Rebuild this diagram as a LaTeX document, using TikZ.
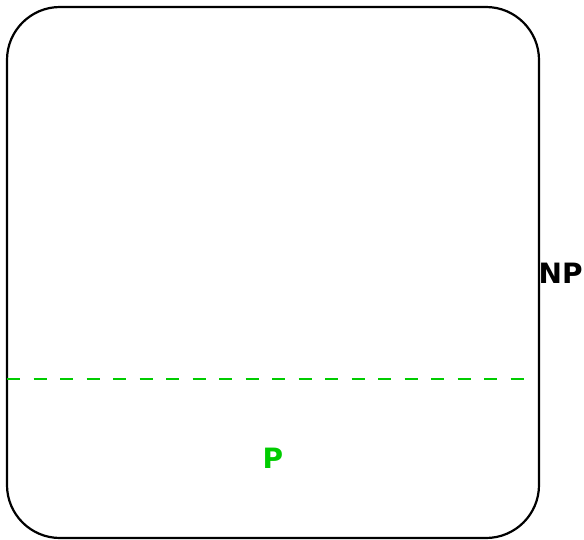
\documentclass[tikz,border=0pt]{standalone}
\usepackage{fontspec}
\setmainfont{DejaVu Sans}
\definecolor{pgreen}{RGB}{0,204,0}
\begin{document}
\begin{tikzpicture}[x=1pt,y=-1pt,
  lbl/.style={font=\fontsize{28}{32}\selectfont\bfseries, inner sep=0pt}]
\useasboundingbox (0,0) rectangle (584,539);
\draw[line width=2.2pt, rounded corners=53pt] (7,7) rectangle (539,538);
\coordinate (dl) at (7,379.3);
\coordinate (dr) at (527,379.3);
\draw[pgreen, line width=2.2pt, dash pattern=on 13pt off 13.5pt] (dl) -- (dr);
\node[lbl, anchor=base west] (np) at (538.5,283) {NP};
\node[lbl, text=pgreen, anchor=base] (p) at (273,468) {P};
\end{tikzpicture}
\end{document}
